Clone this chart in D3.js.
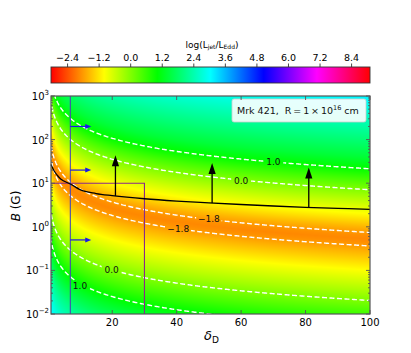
<!DOCTYPE html>
<html>
<head>
<meta charset="utf-8">
<script src="https://cdn.jsdelivr.net/npm/d3@7"></script>
<style>
  body { margin: 0; background: #fff; }
  text { font-family: "DejaVu Sans", sans-serif; }
</style>
</head>
<body>
<svg id="chart" width="411" height="353"></svg>
<script>
// log(Ljet/LEdd) read along lines of constant B*deltaD (w = log10(B*deltaD))
var profileW = [-2.0, -1.5, -1.0, -0.5, -0.3, 0.0, 0.31, 0.5, 1.0, 1.25, 1.5, 1.56, 1.65, 1.72, 1.8, 1.87, 2.0, 2.25, 2.5, 2.85, 3.1, 3.33, 3.6, 4.0, 4.5, 5.0, 5.5];
var profileL = [3.2, 2.7, 2.1, 1.33, 1.0, 0.5, 0.0, -0.29, -1.0, -1.37, -1.72, -1.8, -1.9, -1.95, -1.9, -1.8, -1.58, -1.1, -0.65, 0.0, 0.5, 1.0, 1.45, 1.95, 2.55, 3.15, 3.75];

var contourLevels = [-1.8, 0.0, 1.0];
// inline contour labels
var labelDelta = [70, 60, 50, 40.5, 19.8, 10];
var labelB = [31, 11.4, 1.5, 0.88, 0.102, 0.044];
var labelText = ["1.0", "0.0", "\u22121.8", "\u22121.8", "0.0", "1.0"];

// black solid curve
var curveDelta = [1, 2, 3, 4, 5, 7, 10, 15, 20, 30, 40, 50, 60, 70, 80, 90, 100];
var curveB = [27, 19, 15, 12.5, 11.2, 9.6, 7.1, 5.8, 5.2, 4.4, 3.9, 3.55, 3.25, 3.0, 2.8, 2.65, 2.5];

// black lower-limit arrows
var arrowDelta = [21, 51, 81];
var arrowFromB = [5.1, 3.5, 2.8];
var arrowToB = [44, 29, 23];

// blue delta limit and its arrows
var limitDelta = 7;
var limitArrowB = [200, 20, 0.5];
var limitArrowTo = 13.5;

// purple box
var boxDelta = 30, boxB = 10;

var xTicks = [20, 40, 60, 80, 100];
var yTickExp = [-2, -1, 0, 1, 2, 3];
var cbarTicks = [-2.4, -1.2, 0.0, 1.2, 2.4, 3.6, 4.8, 6.0, 7.2, 8.4];
var cbarMin = -3.03, cbarMax = 9.1;

var svg = d3.select("#chart");
var x0 = 51, x1 = 370, y0 = 96, y1 = 314;
var pw = x1 - x0, ph = y1 - y0;

var x = d3.scaleLinear().domain([1, 100]).range([x0, x1]);
var y = d3.scaleLog().domain([1e-2, 1e3]).range([y1, y0]);
var cx = d3.scaleLinear().domain([cbarMin, cbarMax]).range([x0, x1]);
var prof = d3.scaleLinear().domain(profileW).range(profileL);
var cmap = d3.scaleSequential(function (t) { return d3.hsl(t * 360, 1, 0.5); })
    .domain([cbarMin, cbarMax]).clamp(true);

function field(d, b) {
  return prof(Math.log10(Math.max(d, 0.3) * b));
}

var defs = svg.append("defs");
defs.append("clipPath").attr("id", "plotclip")
  .append("rect").attr("x", x0).attr("y", y0).attr("width", pw).attr("height", ph);

// colour field
var canvas = document.createElement("canvas");
canvas.width = pw; canvas.height = ph;
var ctx = canvas.getContext("2d");
var img = ctx.createImageData(pw, ph);
for (var j = 0; j < ph; j++) {
  for (var i = 0; i < pw; i++) {
    var c = d3.rgb(cmap(field(x.invert(x0 + i + 0.5), y.invert(y0 + j + 0.5))));
    var k = 4 * (j * pw + i);
    img.data[k] = c.r; img.data[k + 1] = c.g; img.data[k + 2] = c.b; img.data[k + 3] = 255;
  }
}
ctx.putImageData(img, 0, 0);
svg.append("image").attr("x", x0).attr("y", y0).attr("width", pw).attr("height", ph)
  .attr("preserveAspectRatio", "none").attr("href", canvas.toDataURL());

// dashed contours
var pad = 6, nx = pw + 2 * pad, ny = ph + 2 * pad, vals = new Array(nx * ny);
for (var j = 0; j < ny; j++) {
  for (var i = 0; i < nx; i++) {
    vals[j * nx + i] = field(x.invert(x0 - pad + i + 0.5), y.invert(y0 - pad + j + 0.5));
  }
}
var conts = d3.contours().size([nx, ny]).thresholds(contourLevels)(vals);
var gpath = d3.geoPath(d3.geoIdentity().translate([x0 - pad, y0 - pad]));

var mask = defs.append("mask").attr("id", "lblmask");
mask.append("rect").attr("x", 0).attr("y", 0).attr("width", 411).attr("height", 353).attr("fill", "#fff");
labelText.forEach(function (t, i) {
  var w = t.length * 5.6 + 3;
  mask.append("rect")
    .attr("x", x(labelDelta[i]) - w / 2).attr("y", y(labelB[i]) - 5)
    .attr("width", w).attr("height", 10).attr("fill", "#000");
});

svg.append("g").attr("clip-path", "url(#plotclip)")
  .append("g").attr("mask", "url(#lblmask)")
  .selectAll("path").data(conts).enter().append("path")
  .attr("d", gpath)
  .attr("fill", "none")
  .attr("stroke", "#fff")
  .attr("stroke-width", 1.4)
  .attr("stroke-dasharray", "5,2.5");

svg.append("g").selectAll("text").data(labelText).enter().append("text")
  .attr("x", function (d, i) { return x(labelDelta[i]); })
  .attr("y", function (d, i) { return y(labelB[i]); })
  .attr("dy", "0.35em")
  .attr("text-anchor", "middle")
  .attr("font-size", 9)
  .attr("fill", "#111")
  .text(function (d) { return d; });

// purple box
svg.append("path")
  .attr("d", "M" + x0 + "," + y(boxB) + "H" + x(boxDelta) + "V" + y1)
  .attr("fill", "none").attr("stroke", "#8a2a8a").attr("stroke-width", 1.1);

// blue limit line and arrows
svg.append("line")
  .attr("x1", x(limitDelta)).attr("x2", x(limitDelta)).attr("y1", y0).attr("y2", y1)
  .attr("stroke", "#4a4ab0").attr("stroke-width", 1.1);
limitArrowB.forEach(function (b) {
  var yy = y(b), xs = x(limitDelta), xe = x(limitArrowTo);
  svg.append("line").attr("x1", xs).attr("x2", xe - 4).attr("y1", yy).attr("y2", yy)
    .attr("stroke", "#1a1ae6").attr("stroke-width", 1.2);
  svg.append("path")
    .attr("d", "M" + xe + "," + yy + "L" + (xe - 6) + "," + (yy - 2.5) + "L" + (xe - 6) + "," + (yy + 2.5) + "Z")
    .attr("fill", "#1a1ae6");
});

// black curve
var line = d3.line()
  .x(function (d, i) { return x(curveDelta[i]); })
  .y(function (d, i) { return y(curveB[i]); })
  .curve(d3.curveMonotoneX);
svg.append("path").datum(curveDelta)
  .attr("d", line)
  .attr("fill", "none").attr("stroke", "#000").attr("stroke-width", 1.3);

// black arrows
arrowDelta.forEach(function (d, i) {
  var xx = x(d), ys = y(arrowFromB[i]), ye = y(arrowToB[i]);
  svg.append("line").attr("x1", xx).attr("x2", xx).attr("y1", ys).attr("y2", ye + 8)
    .attr("stroke", "#000").attr("stroke-width", 1.3);
  svg.append("path")
    .attr("d", "M" + xx + "," + ye + "L" + (xx - 3.6) + "," + (ye + 11) + "L" + (xx + 3.6) + "," + (ye + 11) + "Z")
    .attr("fill", "#000");
});

// legend box
svg.append("rect").attr("x", 232).attr("y", 99).attr("width", 134).attr("height", 23)
  .attr("rx", 2).attr("fill", "#fff").attr("fill-opacity", 0.9).attr("stroke", "#ccc").attr("stroke-width", 0.8);
var lt = svg.append("text").attr("x", 237).attr("y", 113.5).attr("font-size", 9.5).attr("fill", "#111");
lt.append("tspan").text("Mrk 421,\u00a0 R\u2009=\u20091\u2009\u00d7\u200910");
lt.append("tspan").attr("dy", -4).attr("font-size", 6.5).text("16");
lt.append("tspan").attr("dy", 4).text("\u00a0cm");

// axes frame and ticks
var axisCol = "#555";
var ticks = svg.append("g").attr("stroke", axisCol).attr("stroke-width", 0.9);
xTicks.forEach(function (t) {
  ticks.append("line").attr("x1", x(t)).attr("x2", x(t)).attr("y1", y1).attr("y2", y1 - 4);
  ticks.append("line").attr("x1", x(t)).attr("x2", x(t)).attr("y1", y0).attr("y2", y0 + 4);
});
yTickExp.forEach(function (e) {
  var yy = y(Math.pow(10, e));
  ticks.append("line").attr("x1", x0).attr("x2", x0 + 4).attr("y1", yy).attr("y2", yy);
  ticks.append("line").attr("x1", x1).attr("x2", x1 - 4).attr("y1", yy).attr("y2", yy);
  if (e < 3) {
    for (var m = 2; m < 10; m++) {
      var ym = y(m * Math.pow(10, e));
      ticks.append("line").attr("x1", x0).attr("x2", x0 + 2).attr("y1", ym).attr("y2", ym);
      ticks.append("line").attr("x1", x1).attr("x2", x1 - 2).attr("y1", ym).attr("y2", ym);
    }
  }
});
svg.append("rect").attr("x", x0).attr("y", y0).attr("width", pw).attr("height", ph)
  .attr("fill", "none").attr("stroke", axisCol).attr("stroke-width", 1.2);

svg.append("g").selectAll("text").data(xTicks).enter().append("text")
  .attr("x", function (d) { return x(d); }).attr("y", 326)
  .attr("text-anchor", "middle").attr("font-size", 10).text(function (d) { return d; });

yTickExp.forEach(function (e) {
  var t = svg.append("text").attr("x", 49).attr("y", y(Math.pow(10, e)) + 4)
    .attr("text-anchor", "end").attr("font-size", 10);
  t.append("tspan").text("10");
  t.append("tspan").attr("dy", -5).attr("font-size", 7).text(e < 0 ? "\u2212" + (-e) : e);
});

// axis labels
var yl = svg.append("text").attr("transform", "translate(20,206) rotate(-90)")
  .attr("text-anchor", "middle").attr("font-size", 12);
yl.append("tspan").attr("font-style", "italic").text("B");
yl.append("tspan").text(" (G)");

var xl = svg.append("text").attr("x", 204).attr("y", 340).attr("font-size", 13);
xl.append("tspan").attr("font-style", "italic").text("\u03b4");
xl.append("tspan").attr("dy", 3).attr("font-size", 9).text("D");

// colour bar
var cbY = 67, cbH = 16;
var grad = defs.append("linearGradient").attr("id", "cbgrad");
d3.range(0, 1.0001, 1 / 12).forEach(function (t) {
  grad.append("stop").attr("offset", t).attr("stop-color", d3.hsl(t * 360, 1, 0.5));
});
svg.append("rect").attr("x", x0).attr("y", cbY).attr("width", pw).attr("height", cbH)
  .attr("fill", "url(#cbgrad)").attr("stroke", "#333").attr("stroke-width", 0.9);
cbarTicks.forEach(function (t) {
  svg.append("line").attr("x1", cx(t)).attr("x2", cx(t)).attr("y1", cbY).attr("y2", cbY - 3.5)
    .attr("stroke", "#333").attr("stroke-width", 0.9);
  svg.append("text").attr("x", cx(t)).attr("y", 61).attr("text-anchor", "middle")
    .attr("font-size", 9.5).text((t < 0 ? "\u2212" : "") + Math.abs(t).toFixed(1));
});
var ct = svg.append("text").attr("x", 212).attr("y", 47.5).attr("text-anchor", "middle").attr("font-size", 9);
ct.append("tspan").text("log(L");
ct.append("tspan").attr("dy", 1.5).attr("font-size", 6).text("jet");
ct.append("tspan").attr("dy", -1.5).text("/L");
ct.append("tspan").attr("dy", 1.5).attr("font-size", 6).text("Edd");
ct.append("tspan").attr("dy", -1.5).text(")");
</script>
</body>
</html>
